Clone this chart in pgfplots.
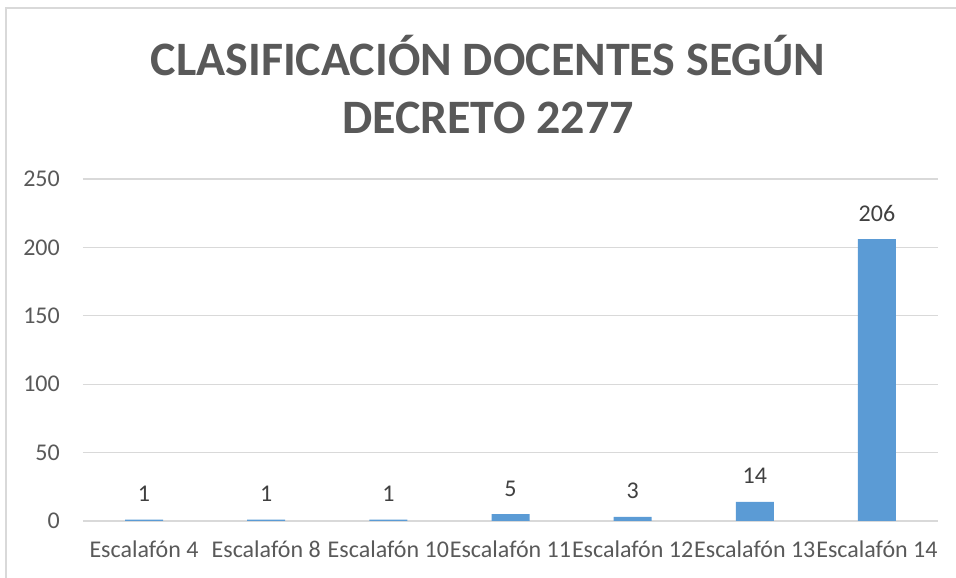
\documentclass[border=0pt]{standalone}
\usepackage{pgfplots}
\pgfplotsset{compat=1.18}
\usepackage{fontspec}
\setmainfont{Carlito}
\definecolor{barblue}{HTML}{5B9BD5}
\definecolor{txtgray}{HTML}{595959}
\definecolor{lbl}{HTML}{404040}
\definecolor{gridc}{HTML}{D9D9D9}
\begin{document}
\begin{tikzpicture}[x=1pt,y=1pt]
\path[use as bounding box] (0,0) rectangle (956,578);
\draw[gridc, line width=1.5pt] (6,-20) -- (6,570) -- (1000,570);
\node[anchor=base, text=txtgray, font=\fontsize{48}{58}\selectfont\bfseries, inner sep=0] at (488,502) {CLASIFICACIÓN DOCENTES SEGÚN};
\node[anchor=base, text=txtgray, font=\fontsize{48}{58}\selectfont\bfseries, inner sep=0] at (488,444) {DECRETO 2277};
\begin{axis}[
  at={(83pt,57pt)}, anchor=south west,
  scale only axis, width=855pt, height=342pt,
  ymin=0, ymax=250, ytick={0,50,100,150,200,250},
  xmin=-0.5, xmax=6.5, xtick=data,
  xticklabels={Escalafón 4,Escalafón 8,Escalafón 10,Escalafón 11,Escalafón 12,Escalafón 13,Escalafón 14},
  axis line style={draw=none},
  major tick length=0pt,
  ymajorgrids, grid style={gridc, line width=1.2pt},
  tick label style={text=txtgray, font=\fontsize{24}{29}\selectfont},
  /pgf/number format/assume math mode=true,
  xticklabel style={anchor=base, inner sep=0pt, yshift=-37pt},
  yticklabel style={anchor=east, inner sep=0pt, xshift=-23pt},
  ybar, bar width=38pt,
  nodes near coords,
  every node near coord/.append style={text=lbl, font=\fontsize{24}{29}\selectfont, anchor=base, inner sep=0pt, yshift=18pt},
  clip=false,
]
\addplot[fill=barblue, draw=none] coordinates {(0,1) (1,1) (2,1) (3,5) (4,3) (5,14) (6,206)};
\end{axis}
\end{tikzpicture}
\end{document}
